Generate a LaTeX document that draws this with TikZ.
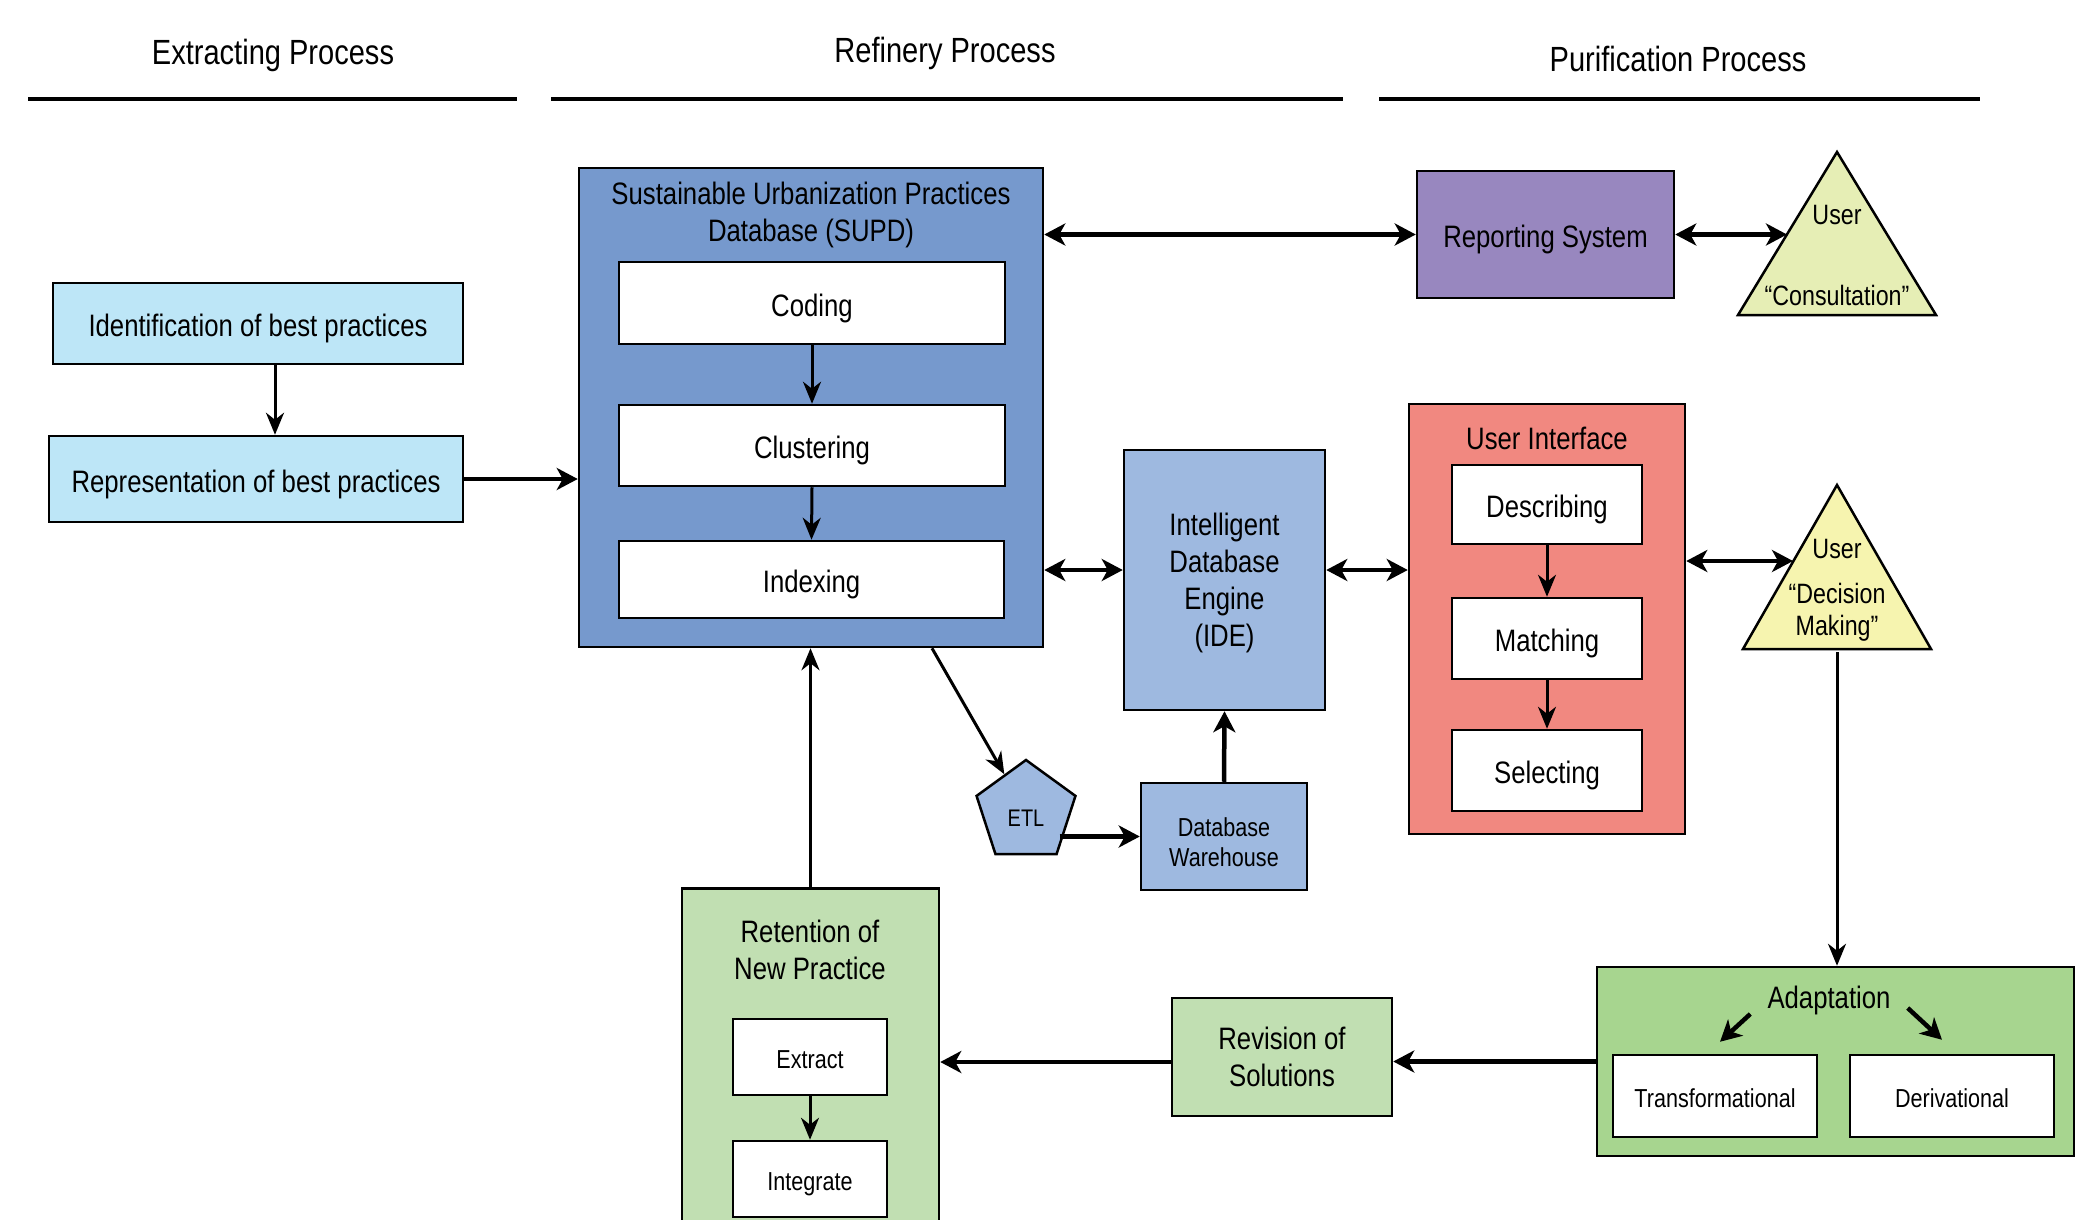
\documentclass[tikz,border=0pt]{standalone}
\usepackage{fontspec}
\setmainfont{Liberation Sans}[FakeStretch=0.83]
\usetikzlibrary{arrows.meta,shapes.geometric,calc}
\definecolor{cIdent}{HTML}{BDE6F7}
\definecolor{cSupd}{HTML}{7699CD}
\definecolor{cIde}{HTML}{9EB9E0}
\definecolor{cRep}{HTML}{9887BF}
\definecolor{cTriA}{HTML}{E6EEB5}
\definecolor{cTriB}{HTML}{F6F4AF}
\definecolor{cUI}{HTML}{F18880}
\definecolor{cGreen}{HTML}{C1DFB2}
\definecolor{cAdapt}{HTML}{A7D58F}
\newcommand{\fsz}[2]{\fontsize{#1}{#2}\selectfont}
\begin{document}
\begin{tikzpicture}[x=1pt,y=-1pt,
 box/.style={draw, line width=2.5pt, rectangle, inner sep=0pt, align=center, font=\fsz{31}{37}},
 sbox/.style={box, font=\fsz{26}{30}},
 one/.style={text height=26pt, text depth=0pt},
 sone/.style={text height=22.5pt, text depth=0pt},
 ttl/.style={inner sep=0pt, align=center, font=\fsz{31}{37}},
 tritxt/.style={inner sep=0pt, align=center, font=\fsz{28}{32}},
 hdr/.style={inner sep=0pt, font=\fsz{35}{40}},
 tri/.style={draw, line width=2.5pt, line join=miter},
 thinarr/.style={line width=3pt, -{Stealth[length=22pt,width=18pt,inset=7pt]}},
 thickarr/.style={line width=4.5pt, -{Stealth[length=21pt,width=22pt,inset=6pt]}},
 botharr/.style={line width=4.5pt, {Stealth[length=21pt,width=22pt,inset=6pt]}-{Stealth[length=21pt,width=22pt,inset=6pt]}},
 hline/.style={line width=4.5pt}
]
\useasboundingbox (0,0) rectangle (2082,1220);

% headers
\node[hdr] (h1) at (273,55) {Extracting Process};
\node[hdr] (h2) at (945,53) {Refinery Process};
\node[hdr] (h3) at (1678,59) {Purification Process};
\draw[hline] (28,99) -- (517,99);
\draw[hline] (551,99) -- (1343,99);
\draw[hline] (1379,99) -- (1980,99);

% extracting
\node[box, one, fill=cIdent, minimum width=410pt, minimum height=81pt] (ident) at (258,323.5) {Identification of best practices};
\node[box, one, fill=cIdent, minimum width=414pt, minimum height=86pt] (repr) at (256,479) {Representation of best practices};

% SUPD
\node[box, fill=cSupd, minimum width=464pt, minimum height=479pt] (supd) at (811,407.5) {};
\node[ttl] (supdt) at (811,215) {Sustainable Urbanization Practices\\Database (SUPD)};
\node[box, one, fill=white, minimum width=386pt, minimum height=82pt] (coding) at (812,303) {Coding};
\node[box, one, fill=white, minimum width=386pt, minimum height=81pt] (clust) at (812,445.5) {Clustering};
\node[box, one, fill=white, minimum width=385pt, minimum height=77pt] (index) at (811.5,579.5) {Indexing};

% IDE, ETL, warehouse
\node[box, fill=cIde, minimum width=201pt, minimum height=260pt] (ide) at (1224.5,580) {};
\node[ttl] (idet) at (1224.5,583) {Intelligent\\Database\\Engine\\(IDE)};
\node[draw, line width=2.5pt, fill=cIde, regular polygon, regular polygon sides=5, minimum size=104pt, inner sep=0pt, font=\fsz{24}{28}, text height=29pt, text depth=0pt] (etl) at (1026,812) {ETL};
\node[sbox, fill=cIde, minimum width=166pt, minimum height=107pt] (ware) at (1224,836.5) {};
\node[ttl, font=\fsz{26}{30}] (waret) at (1224,842) {Database\\Warehouse};

% reporting
\node[box, one, fill=cRep, minimum width=257pt, minimum height=127pt] (report) at (1545.5,234.5) {Reporting System};

% user interface
\node[box, fill=cUI, minimum width=276pt, minimum height=430pt] (ui) at (1547,619) {};
\node[ttl] (uit) at (1547,438) {User Interface};
\node[box, one, fill=white, minimum width=190pt, minimum height=79pt] (desc) at (1547,504.5) {Describing};
\node[box, one, fill=white, minimum width=190pt, minimum height=81pt] (match) at (1547,638.5) {Matching};
\node[box, one, fill=white, minimum width=190pt, minimum height=81pt] (select) at (1547,770.5) {Selecting};

% triangles
\coordinate (t1apex) at (1837,152);
\coordinate (t1r) at (1936,315);
\coordinate (t1l) at (1738,315);
\filldraw[tri, fill=cTriA] (t1apex) -- (t1r) -- (t1l) -- cycle;
\node[tritxt] (t1user) at (1837,215) {User};
\node[tritxt] (t1cons) at (1837,295) {“Consultation”};
\coordinate (t2apex) at (1837,485);
\coordinate (t2r) at (1931,649);
\coordinate (t2l) at (1743,649);
\filldraw[tri, fill=cTriB] (t2apex) -- (t2r) -- (t2l) -- cycle;
\node[tritxt] (t2user) at (1837,549) {User};
\node[tritxt] (t2dec) at (1837,612) {“Decision\\Making”};
\coordinate (t1in) at (1787,234.5);
\coordinate (t2in) at (1793,561);
\coordinate (t2bot) at (1837,652);

% retention
\node[box, fill=cGreen, minimum width=257pt, minimum height=360pt, anchor=north] (ret) at (810.5,887) {};
\node[ttl] (rett) at (810,950) {Retention of\\New Practice};
\node[sbox, sone, fill=white, minimum width=154pt, minimum height=76pt] (extract) at (810,1057) {Extract};
\node[sbox, sone, fill=white, minimum width=154pt, minimum height=76pt] (integ) at (810,1179) {Integrate};

% revision
\node[box, fill=cGreen, minimum width=220pt, minimum height=118pt] (rev) at (1282,1057) {Revision of\\Solutions};

% adaptation
\node[box, fill=cAdapt, minimum width=477pt, minimum height=189pt] (adapt) at (1835.5,1061.5) {};
\node[ttl] (adaptt) at (1829,1000) {Adaptation};
\node[sbox, sone, fill=white, minimum width=204pt, minimum height=82pt] (trans) at (1715,1096) {Transformational};
\node[sbox, sone, fill=white, minimum width=204pt, minimum height=82pt] (deriv) at (1952,1096) {Derivational};

% connectors
\draw[thinarr] ([xshift=17pt]ident.south) -- ([xshift=17pt]ident.south |- repr.north);
\draw[thickarr] (repr.east) -- (repr.east -| supd.west);
\draw[thinarr] (coding.south) -- (clust.north);
\draw[thinarr] (clust.south) -- (index.north);
\draw[botharr] (supd.east |- report.west) -- (report.west);
\draw[botharr] (report.east) -- (t1in);
\draw[botharr] ([yshift=10pt]ide.west -| supd.east) -- ([yshift=10pt]ide.west);
\draw[botharr] ([yshift=10pt]ide.east) -- ([yshift=10pt]ide.east -| ui.west);
\draw[botharr] (ui.east |- t2in) -- (t2in);
\draw[thinarr] (desc.south) -- (match.north);
\draw[thinarr] (match.south) -- (select.north);
\draw[thinarr] ([xshift=121pt]supd.south) -- (etl);
\draw[thickarr] ([xshift=-12pt]etl.east |- ware.west) -- (ware.west);
\draw[thickarr] (ware.north) -- (ide.south);
\draw[thinarr] (ret.north) -- (ret.north |- supd.south);
\draw[thinarr] (t2bot) -- (t2bot |- adapt.north);
\draw[thickarr] (adapt.west) -- (adapt.west -| rev.east);
\draw[thickarr] ([yshift=-5pt]rev.west) -- ([yshift=-5pt]rev.west -| ret.east);
\draw[thinarr] (extract.south) -- (integ.north);
\draw[thickarr] ([xshift=-17pt,yshift=-14pt]adaptt.west) -- ([xshift=5pt,yshift=12pt]trans.north);
\draw[thickarr] ([xshift=17pt,yshift=-8pt]adaptt.east) -- ([xshift=-10pt,yshift=14pt]deriv.north);
\end{tikzpicture}
\end{document}
